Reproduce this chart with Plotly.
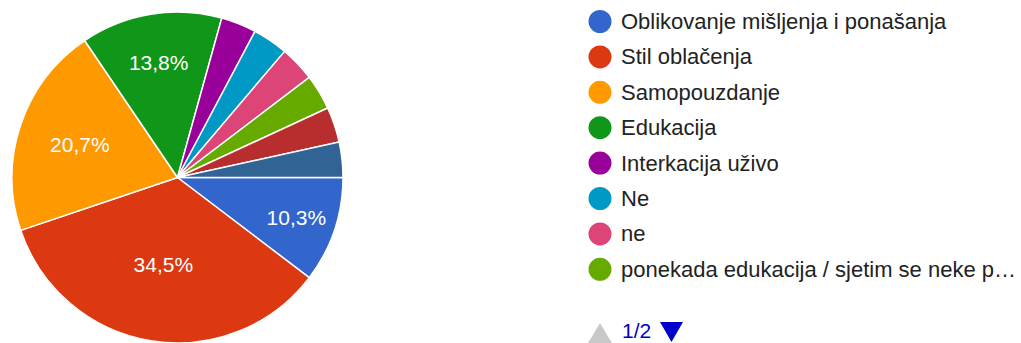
import plotly.graph_objects as go

# Response counts per answer option (29 responses in total)
labels = [
    "Oblikovanje mišljenja i ponašanja",
    "Stil oblačenja",
    "Samopouzdanje",
    "Edukacija",
    "Interkacija uživo",
    "Ne",
    "ne",
    "ponekada edukacija / sjetim se neke p…",
    "Odgovor 9",
    "Odgovor 10",
]
counts = [3, 10, 6, 4, 1, 1, 1, 1, 1, 1]
colors = ["#3366cc", "#dc3912", "#ff9900", "#109618", "#990099",
          "#0099c6", "#dd4477", "#66aa00", "#b82e2e", "#316395"]

legend_page = "1/2"
legend_rows = 8          # entries shown on the first legend page
min_label_share = 0.05   # slices smaller than this carry no percentage label

FONT = "Liberation Sans, Arial, sans-serif"
W, H = 1021, 343

total = sum(counts)
templates = ["%{percent:.1%}" if c / total >= min_label_share else "" for c in counts]

fig = go.Figure(
    go.Pie(
        labels=labels,
        values=counts,
        sort=False,
        direction="clockwise",
        rotation=90,
        marker=dict(colors=colors, line=dict(color="white", width=1.5)),
        texttemplate=templates,
        textposition="inside",
        insidetextorientation="horizontal",
        textfont=dict(family=FONT, size=21, color="white"),
        hoverinfo="label+percent",
        showlegend=False,
        domain=dict(x=[11.5 / W, 343.5 / W], y=[0, 1 - 12 / H]),
    )
)

# Paged legend on the right: coloured dots and option names
shapes = []
annotations = []
row_top = 21.5
row_step = 35.4
dot_x = 600
dot_r = 11.5
for i in range(legend_rows):
    yc = row_top + i * row_step
    shapes.append(dict(
        type="circle", xref="paper", yref="paper",
        x0=(dot_x - dot_r) / W, x1=(dot_x + dot_r) / W,
        y0=1 - (yc + dot_r) / H, y1=1 - (yc - dot_r) / H,
        fillcolor=colors[i], line=dict(width=0),
    ))
    annotations.append(dict(
        xref="paper", yref="paper", x=619 / W, y=1 - yc / H,
        xanchor="left", yanchor="middle", showarrow=False,
        text=labels[i], font=dict(family=FONT, size=22, color="#222222"),
    ))

# Page navigation: greyed "previous" arrow, page counter, active "next" arrow
def tri(x0, x1, ytop, ybot, up):
    xm = (x0 + x1) / 2
    if up:
        pts = [(x0, ybot), (x1, ybot), (xm, ytop)]
    else:
        pts = [(x0, ytop), (x1, ytop), (xm, ybot)]
    return "M " + " L ".join(f"{x / W:.5f},{1 - y / H:.5f}" for x, y in pts) + " Z"

shapes.append(dict(type="path", xref="paper", yref="paper",
                   path=tri(588, 612, 323, 343, True),
                   fillcolor="#c8c8c8", line=dict(width=0)))
shapes.append(dict(type="path", xref="paper", yref="paper",
                   path=tri(660, 683, 322, 342, False),
                   fillcolor="#0000cc", line=dict(width=0)))
annotations.append(dict(
    xref="paper", yref="paper", x=621 / W, y=0,
    xanchor="left", yanchor="bottom", showarrow=False, borderpad=0,
    text=legend_page, font=dict(family=FONT, size=21, color="#0000cc"),
))

fig.update_layout(
    width=W, height=H,
    margin=dict(l=0, r=0, t=0, b=0),
    paper_bgcolor="white",
    plot_bgcolor="white",
    separators=",.",
    shapes=shapes,
    annotations=annotations,
)

fig.write_html("out.html")
